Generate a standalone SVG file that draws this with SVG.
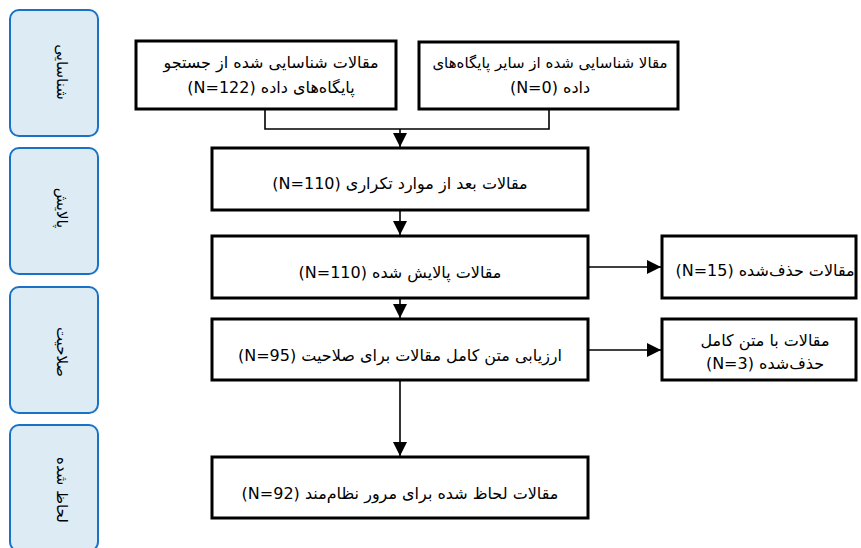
<svg xmlns="http://www.w3.org/2000/svg" width="861" height="548" viewBox="0 0 861 548">
  <style>
    .lane { fill: #dcebf4; stroke: #1a72c6; stroke-width: 2; }
    .lanetxt { font-family: "DejaVu Sans", "Liberation Sans", sans-serif; font-size: 15px; fill: #000; direction: rtl; unicode-bidi: embed; }
    .box { fill: #fff; stroke: #000; stroke-width: 3; }
    .txt { font-family: "DejaVu Sans", "Liberation Sans", sans-serif; font-size: 16px; fill: #000; direction: rtl; unicode-bidi: embed; text-anchor: middle; }
    .sm { font-size: 15px; }
    .conn { fill: none; stroke: #000; stroke-width: 1.6; }
  </style>
  <defs>
    <marker id="arr" markerUnits="userSpaceOnUse" markerWidth="16" markerHeight="14" refX="14" refY="7" orient="auto">
      <path d="M0,0 L14,7 L0,14 Z" fill="#000"/>
    </marker>
  </defs>
  <rect width="861" height="548" fill="#fff"/>

  <g id="lane1"><rect class="lane" x="10" y="10" width="88" height="126" rx="9"/>
    <text class="lanetxt" x="62" y="72" text-anchor="middle" dominant-baseline="central" transform="rotate(90 62 72)">شناسایی</text></g>
  <g id="lane2"><rect class="lane" x="10" y="148" width="88" height="126" rx="9"/>
    <text class="lanetxt" x="62" y="208" text-anchor="middle" dominant-baseline="central" transform="rotate(90 62 208)">پالایش</text></g>
  <g id="lane3"><rect class="lane" x="10" y="287" width="88" height="126" rx="9"/>
    <text class="lanetxt" x="62" y="352" text-anchor="middle" dominant-baseline="central" transform="rotate(90 62 352)">صلاحیت</text></g>
  <g id="lane4"><rect class="lane" x="10" y="425" width="88" height="126" rx="9"/>
    <text class="lanetxt" x="62" y="490" text-anchor="middle" dominant-baseline="central" transform="rotate(90 62 490)">لحاظ شده</text></g>

  <g id="connectors">
    <path class="conn" d="M265,109 V129 H549 V109"/>
    <path class="conn" d="M400,129 V147" marker-end="url(#arr)"/>
    <path class="conn" d="M400,210 V235" marker-end="url(#arr)"/>
    <path class="conn" d="M400,298 V318" marker-end="url(#arr)"/>
    <path class="conn" d="M400,380 V456" marker-end="url(#arr)"/>
    <path class="conn" d="M589,267 H661" marker-end="url(#arr)"/>
    <path class="conn" d="M589,350 H661" marker-end="url(#arr)"/>
  </g>

  <g id="nodeA"><rect class="box" x="136" y="41" width="260" height="68"/>
    <text class="txt" x="271" y="68">مقالات شناسایی شده از جستجو</text>
    <text class="txt" x="271" y="93">پایگاه‌های داده (N=122)</text></g>
  <g id="nodeB"><rect class="box" x="419" y="42" width="259" height="67"/>
    <text class="txt sm" x="550" y="68">مقالا شناسایی شده از سایر پایگاه‌های</text>
    <text class="txt" x="550" y="93">داده (N=0)</text></g>
  <g id="nodeC"><rect class="box" x="212" y="148" width="376" height="62"/>
    <text class="txt" x="400" y="189">مقالات بعد از موارد تکراری (N=110)</text></g>
  <g id="nodeD"><rect class="box" x="212" y="236" width="376" height="62"/>
    <text class="txt" x="400" y="278">مقالات پالایش شده (N=110)</text></g>
  <g id="nodeE"><rect class="box" x="212" y="319" width="376" height="61"/>
    <text class="txt" x="400" y="361">ارزیابی متن کامل مقالات برای صلاحیت (N=95)</text></g>
  <g id="nodeF"><rect class="box" x="212" y="457" width="376" height="61"/>
    <text class="txt" x="400" y="499">مقالات لحاظ شده برای مرور نظام‌مند (N=92)</text></g>
  <g id="nodeG"><rect class="box" x="662" y="236" width="194" height="62"/>
    <text class="txt" x="765" y="276">مقالات حذف‌شده (N=15)</text></g>
  <g id="nodeH"><rect class="box" x="662" y="319" width="194" height="61"/>
    <text class="txt" x="765" y="346">مقالات با متن کامل</text>
    <text class="txt" x="765" y="369">حذف‌شده (N=3)</text></g>
</svg>
